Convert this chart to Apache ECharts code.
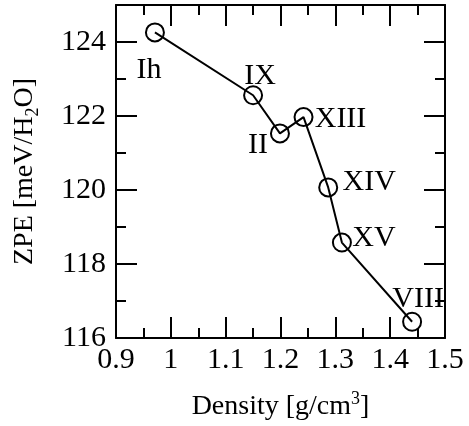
<!DOCTYPE html>
<html>
<head>
<meta charset="utf-8">
<script src="https://cdn.jsdelivr.net/npm/echarts@6/dist/echarts.min.js"></script>
<style>
  html, body { margin: 0; padding: 0; background: #fff; }
  #chart { width: 469px; height: 426px; }
</style>
</head>
<body>
<div id="chart"></div>
<script>
// phases of ice, density vs zero point energy
const phases = ['Ih', 'IX', 'II', 'XIII', 'XIV', 'XV', 'VIII']
const density = [0.971, 1.150, 1.199, 1.242, 1.287, 1.312, 1.440]
const zpe = [124.26, 122.56, 121.53, 121.97, 120.07, 118.58, 116.44]

// where each phase name sits relative to its marker (px)
const labelOffset = {
  Ih: [-6, 38],
  IX: [7, -19],
  II: [-22, 12],
  XIII: [37, 2],
  XIV: [41, -5],
  XV: [32, -4],
  VIII: [6, -23]
}

const font = 'Liberation Serif, Times New Roman, serif'
const myChart = echarts.init(document.getElementById('chart'))

function frameAxis (extra) {
  return Object.assign({
    axisLine: { onZero: false, lineStyle: { color: '#000', width: 2 } },
    axisTick: { inside: true, length: 21, lineStyle: { color: '#000', width: 2 } },
    minorTick: { show: true, splitNumber: 2, length: 10, lineStyle: { color: '#000', width: 2 } },
    splitLine: { show: false },
    minorSplitLine: { show: false }
  }, extra)
}

const xBase = { type: 'value', min: 0.9, max: 1.5, interval: 0.1 }
const yBase = { type: 'value', min: 116, max: 125, interval: 2 }

const option = {
  animation: false,
  grid: { left: 116, right: 24, top: 5, bottom: 85 },
  xAxis: [
    frameAxis(Object.assign({}, xBase, {
      position: 'bottom',
      name: 'Density [g/cm{sup|3}]',
      nameLocation: 'middle',
      nameGap: 52,
      nameTextStyle: {
        fontFamily: font, fontSize: 28, color: '#000',
        rich: { sup: { fontFamily: font, fontSize: 18, color: '#000', verticalAlign: 'top', padding: [0, 0, 16, 0] } }
      },
      axisLabel: { fontFamily: font, fontSize: 30, color: '#000', margin: 7 }
    })),
    frameAxis(Object.assign({}, xBase, {
      position: 'top',
      axisLabel: { show: false }
    }))
  ],
  yAxis: [
    frameAxis(Object.assign({}, yBase, {
      position: 'left',
      name: 'ZPE [meV/H{sub|2}O]',
      nameLocation: 'middle',
      nameRotate: 90,
      nameGap: 74,
      nameTextStyle: {
        fontFamily: font, fontSize: 28, color: '#000',
        rich: { sub: { fontFamily: font, fontSize: 18, color: '#000', padding: [16, 0, 0, 0] } }
      },
      axisLabel: {
        fontFamily: font, fontSize: 30, color: '#000', margin: 10,
        formatter: function (v) { return v % 2 === 0 ? String(v) : '' }
      }
    })),
    frameAxis(Object.assign({}, yBase, {
      position: 'right',
      axisLabel: { show: false }
    }))
  ],
  series: [{
    type: 'line',
    xAxisIndex: 0,
    yAxisIndex: 0,
    symbol: 'circle',
    symbolSize: 18,
    lineStyle: { color: '#000', width: 2 },
    itemStyle: { color: 'rgba(0,0,0,0)', borderColor: '#000', borderWidth: 2 },
    data: phases.map((name, i) => ({
      value: [density[i], zpe[i]],
      name: name,
      label: {
        show: true,
        position: 'inside',
        offset: labelOffset[name],
        formatter: name,
        fontFamily: font,
        fontSize: 30,
        color: '#000'
      }
    }))
  }]
}

myChart.setOption(option)
</script>
</body>
</html>
